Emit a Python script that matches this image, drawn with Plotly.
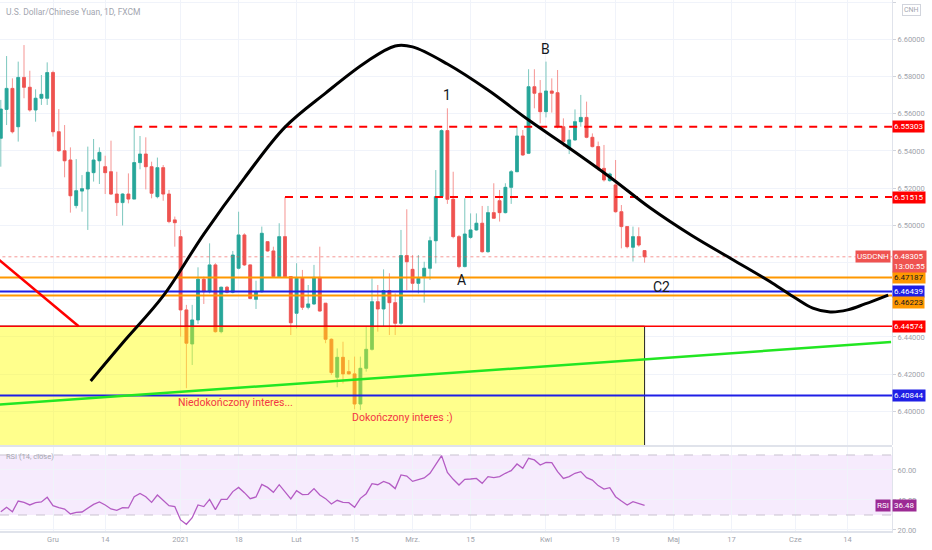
import plotly.graph_objects as go

# USD/CNH daily candles, 18 Nov 2020 - 26 Apr 2021
DATES = """
2020-11-18 2020-11-19 2020-11-20 2020-11-23 2020-11-24 2020-11-25 2020-11-26 2020-11-27 2020-11-30
2020-12-01 2020-12-02 2020-12-03 2020-12-04 2020-12-07 2020-12-08 2020-12-09 2020-12-10 2020-12-11
2020-12-14 2020-12-15 2020-12-16 2020-12-17 2020-12-18 2020-12-21 2020-12-22 2020-12-23 2020-12-24
2020-12-28 2020-12-29 2020-12-30 2020-12-31
2021-01-04 2021-01-05 2021-01-06 2021-01-07 2021-01-08 2021-01-11 2021-01-12 2021-01-13 2021-01-14 2021-01-15
2021-01-18 2021-01-19 2021-01-20 2021-01-21 2021-01-22 2021-01-25 2021-01-26 2021-01-27 2021-01-28 2021-01-29
2021-02-01 2021-02-02 2021-02-03 2021-02-04 2021-02-05 2021-02-08 2021-02-09 2021-02-10 2021-02-11 2021-02-12
2021-02-15 2021-02-16 2021-02-17 2021-02-18 2021-02-19 2021-02-22 2021-02-23 2021-02-24 2021-02-25 2021-02-26
2021-03-01 2021-03-02 2021-03-03 2021-03-04 2021-03-05 2021-03-08 2021-03-09 2021-03-10 2021-03-11 2021-03-12
2021-03-15 2021-03-16 2021-03-17 2021-03-18 2021-03-19 2021-03-22 2021-03-23 2021-03-24 2021-03-25 2021-03-26
2021-03-29 2021-03-30 2021-03-31
2021-04-01 2021-04-02 2021-04-05 2021-04-06 2021-04-07 2021-04-08 2021-04-09
2021-04-12 2021-04-13 2021-04-14 2021-04-15 2021-04-16 2021-04-19 2021-04-20 2021-04-21 2021-04-22 2021-04-23 2021-04-26
""".split()

OPEN = [
    6.5468, 6.5623, 6.5736, 6.5530, 6.5795, 6.5742, 6.5620, 6.5683, 6.5683,
    6.5821, 6.5503, 6.5401, 6.5351, 6.5106, 6.5184, 6.5195, 6.5283, 6.5347,
    6.5315, 6.5288, 6.5168, 6.5122, 6.5168, 6.5141, 6.5337, 6.5383, 6.5315,
    6.5154, 6.5310, 6.5168, 6.5029,
    6.4939, 6.4545, 6.4362, 6.4491, 6.4710, 6.4643, 6.4787, 6.4428, 6.4667, 6.4640,
    6.4769, 6.4948, 6.4787, 6.4602, 6.4643, 6.4912, 6.4862, 6.4724, 6.4939, 6.4724,
    6.4527, 6.4715, 6.4559, 6.4577, 6.4720, 6.4581, 6.4387, 6.4183, 6.4290, 6.4213,
    6.4201, 6.4039, 6.4231, 6.4333, 6.4589, 6.4550, 6.4649, 6.4584, 6.4473, 6.4837,
    6.4763, 6.4688, 6.4724, 6.4769, 6.4917, 6.5154, 6.5509, 6.5140, 6.4939, 6.4778,
    6.4935, 6.4975, 6.5011, 6.4858, 6.5068, 6.5132, 6.5068, 6.5204, 6.5288, 6.5480,
    6.5387, 6.5745, 6.5710,
    6.5611, 6.5722, 6.5713, 6.5530, 6.5414, 6.5459, 6.5557,
    6.5580, 6.5473, 6.5423, 6.5306, 6.5240, 6.5217, 6.5073, 6.4993, 6.4882, 6.4939, 6.4864,
]
HIGH = [
    6.5674, 6.5910, 6.5790, 6.5880, 6.5969, 6.5831, 6.5731, 6.5808, 6.5876,
    6.5831, 6.5625, 6.5539, 6.5419, 6.5356, 6.5270, 6.5423, 6.5464, 6.5419,
    6.5374, 6.5455, 6.5288, 6.5172, 6.5279, 6.5530, 6.5480, 6.5473, 6.5342,
    6.5364, 6.5324, 6.5190, 6.5047,
    6.4975, 6.4572, 6.4572, 6.4774, 6.4724, 6.4903, 6.4796, 6.4670, 6.4674, 6.4862,
    6.5073, 6.4957, 6.4790, 6.4702, 6.4993, 6.4915, 6.4885, 6.5011, 6.5152, 6.4727,
    6.4796, 6.4760, 6.4679, 6.4787, 6.4885, 6.4581, 6.4392, 6.4338, 6.4374, 6.4276,
    6.4294, 6.4294, 6.4455, 6.4715, 6.4679, 6.4763, 6.4742, 6.4634, 6.4975, 6.5086,
    6.4840, 6.4840, 6.4804, 6.4939, 6.5297, 6.5516, 6.5629, 6.5288, 6.4948, 6.5145,
    6.5064, 6.5064, 6.5104, 6.5104, 6.5226, 6.5190, 6.5226, 6.5297, 6.5530, 6.5512,
    6.5839, 6.5839, 6.5781,
    6.5880, 6.5790, 6.5835, 6.5575, 6.5512, 6.5623, 6.5701,
    6.5665, 6.5494, 6.5450, 6.5432, 6.5283, 6.5351, 6.5109, 6.4993, 6.4993, 6.4989, 6.4867,
]
LOW = [
    6.5315, 6.5539, 6.5494, 6.5450, 6.5683, 6.5611, 6.5557, 6.5647, 6.5647,
    6.5477, 6.5396, 6.5258, 6.5068, 6.5091, 6.5073, 6.4975, 6.5235, 6.5222,
    6.5168, 6.5163, 6.5050, 6.4999, 6.5118, 6.5141, 6.5301, 6.5193, 6.5145,
    6.5145, 6.5132, 6.5011, 6.4885,
    6.4401, 6.4124, 6.4249, 6.4469, 6.4577, 6.4634, 6.4423, 6.4419, 6.4634, 6.4634,
    6.4763, 6.4781, 6.4602, 6.4550, 6.4638, 6.4858, 6.4720, 6.4720, 6.4720, 6.4410,
    6.4445, 6.4545, 6.4548, 6.4572, 6.4536, 6.4366, 6.4195, 6.4129, 6.4150, 6.4198,
    6.4011, 6.4007, 6.4213, 6.4326, 6.4428, 6.4455, 6.4410, 6.4410, 6.4464, 6.4652,
    6.4649, 6.4634, 6.4584, 6.4706, 6.4795, 6.5150, 6.5115, 6.4930, 6.4769, 6.4774,
    6.4928, 6.4971, 6.4853, 6.4853, 6.5038, 6.5020, 6.5064, 6.5115, 6.5288, 6.5373,
    6.5383, 6.5629, 6.5548,
    6.5580, 6.5606, 6.5521, 6.5423, 6.5383, 6.5455, 6.5530,
    6.5468, 6.5419, 6.5294, 6.5235, 6.5235, 6.5068, 6.4876, 6.4876, 6.4805, 6.4885, 6.4799,
]
CLOSE = [
    6.5625, 6.5736, 6.5503, 6.5795, 6.5742, 6.5620, 6.5683, 6.5704, 6.5821,
    6.5503, 6.5401, 6.5347, 6.5159, 6.5186, 6.5197, 6.5285, 6.5351, 6.5392,
    6.5283, 6.5168, 6.5122, 6.5168, 6.5141, 6.5337, 6.5383, 6.5315, 6.5172,
    6.5310, 6.5168, 6.5020, 6.5014,
    6.4545, 6.4366, 6.4491, 6.4710, 6.4643, 6.4787, 6.4428, 6.4667, 6.4640, 6.4840,
    6.4948, 6.4787, 6.4607, 6.4643, 6.4957, 6.4862, 6.4724, 6.4939, 6.4724, 6.4476,
    6.4715, 6.4559, 6.4577, 6.4720, 6.4539, 6.4387, 6.4208, 6.4290, 6.4201, 6.4201,
    6.4039, 6.4231, 6.4333, 6.4589, 6.4550, 6.4649, 6.4584, 6.4473, 6.4837, 6.4804,
    6.4688, 6.4715, 6.4769, 6.4917, 6.5154, 6.5509, 6.5140, 6.4939, 6.4778, 6.4953,
    6.4975, 6.5011, 6.4858, 6.5068, 6.5038, 6.5068, 6.5204, 6.5288, 6.5480, 6.5378,
    6.5745, 6.5710, 6.5611,
    6.5722, 6.5710, 6.5530, 6.5450, 6.5459, 6.5557, 6.5580,
    6.5473, 6.5423, 6.5306, 6.5244, 6.5276, 6.5073, 6.4993, 6.4885, 6.4939, 6.4894, 6.48305,
]
RSI = [
    32.2, 35.1, 32.2, 39.3, 38.4, 36.7, 38.2, 38.7, 41.8,
    36.2, 34.9, 34.0, 30.7, 31.8, 32.0, 34.4, 37.1, 38.7,
    36.7, 34.0, 33.1, 34.9, 34.7, 42.2, 44.4, 42.2, 38.4,
    43.3, 39.6, 36.2, 35.6,
    26.7, 23.8, 28.2, 36.7, 35.6, 40.4, 33.6, 40.4, 40.4, 45.6,
    48.4, 44.9, 40.9, 42.0, 50.4, 48.4, 45.1, 50.2, 45.6, 40.7,
    46.2, 43.6, 43.8, 47.6, 43.3, 40.9, 37.3, 39.8, 38.4, 38.2,
    35.1, 41.1, 44.2, 50.9, 50.2, 52.4, 50.9, 47.6, 56.7, 56.0,
    52.4, 53.3, 54.7, 57.8, 63.3, 69.6, 58.4, 53.8, 50.0, 53.8,
    54.0, 54.4, 51.1, 55.6, 54.9, 55.6, 57.8, 59.6, 64.0, 61.1,
    67.8, 66.7, 63.3,
    65.1, 64.9, 58.9, 54.4, 55.6, 57.8, 58.9,
    54.9, 53.3, 49.6, 47.3, 48.2, 42.2, 39.3, 36.7, 38.9, 37.8, 36.48,
]
assert len(DATES) == len(OPEN) == len(HIGH) == len(LOW) == len(CLOSE) == len(RSI)

HOLIDAYS = ["2020-12-25", "2021-01-01"]
TICK_DATES = ["2020-12-01", "2020-12-14", "2021-01-04", "2021-01-18", "2021-02-01",
              "2021-02-15", "2021-03-01", "2021-03-15", "2021-04-01", "2021-04-19",
              "2021-05-03", "2021-05-17", "2021-06-01", "2021-06-14"]
TICK_TEXT = ["Gru", "14", "2021", "18", "Lut", "15", "Mrz.", "15", "Kwi", "19",
             "Maj", "17", "Cze", "14"]

# price scale: 6.48 and 6.46 sit behind the coloured labels, so no text there
PRICE_TICKS = [6.38, 6.40, 6.42, 6.44, 6.46, 6.48, 6.50, 6.52, 6.54, 6.56, 6.58, 6.60, 6.62]
PRICE_TEXT = ["6.38000", "6.40000", "6.42000", "6.44000", "", "", "6.50000", "6.52000",
              "6.54000", "6.56000", "6.58000", "6.60000", "6.62000"]

# drawn levels
DASH_LEVELS = [6.55303, 6.51515]
DASH_FROM = ["2020-12-21", "2021-01-28"]
ORANGE_LEVELS = [6.47187, 6.46223]
BLUE_LEVELS = [6.46439, 6.40844]
RED_LEVEL = 6.44574
LAST_PRICE = 6.48305
RSI_LAST = 36.48

# black arc drawn by hand on the chart
ARC_DATES = ["2020-12-09 12:00", "2020-12-17", "2020-12-29", "2021-01-08", "2021-01-19",
             "2021-01-28", "2021-02-08", "2021-02-17", "2021-02-24", "2021-03-01",
             "2021-03-09", "2021-03-18", "2021-03-29", "2021-04-07", "2021-04-16",
             "2021-04-27", "2021-05-06", "2021-05-17", "2021-05-26", "2021-06-01",
             "2021-06-04", "2021-06-09", "2021-06-14", "2021-06-17", "2021-06-23"]
ARC_PRICES = [6.4163, 6.4367, 6.4620, 6.4953, 6.5254, 6.5528, 6.5711, 6.5878, 6.5964,
              6.5959, 6.5867, 6.5727, 6.5566, 6.5416, 6.5260, 6.5093, 6.4948, 6.4819,
              6.4690, 6.4609, 6.4555, 6.4534, 6.4545, 6.4577, 6.4625]

GREEN_DATES = ["2020-11-17 12:00", "2021-06-23 12:00"]
GREEN_PRICES = [6.4036, 6.4372]
RED_DIAG_DATES = ["2020-11-17 12:00", "2020-12-07 10:00"]
RED_DIAG_PRICES = [6.4820, 6.4457]

BOX_DATES = ["2020-11-10", "2021-04-26"]
BOX_PRICES = [6.37, RED_LEVEL]

X_RANGE = ["2020-11-17 20:40", "2021-06-23 15:50"]
X_FAR = ["2020-11-10", "2021-07-05"]
Y_RANGE = [6.38188, 6.62113]
RSI_RANGE = [19.33, 75.33]

FONT = "Roboto"
AXIS_TXT = "#a0a3ab"
GRID = "#f0f3fa"
RED = "#ff0000"
ORANGE = "#ff9800"
BLUE = "#1f1fe6"
LABEL_SIZE = 8

fig = go.Figure()

# wicks (lighter), then solid bodies on top
fig.add_trace(go.Candlestick(
    x=DATES, open=OPEN, high=HIGH, low=LOW, close=CLOSE,
    increasing=dict(line=dict(color="#7cc7be", width=1), fillcolor="#7cc7be"),
    decreasing=dict(line=dict(color="#f59593", width=1), fillcolor="#f59593"),
    whiskerwidth=0, showlegend=False, hoverinfo="skip"))
fig.add_trace(go.Candlestick(
    x=DATES, open=OPEN, close=CLOSE,
    high=[max(o, c) for o, c in zip(OPEN, CLOSE)],
    low=[min(o, c) for o, c in zip(OPEN, CLOSE)],
    increasing=dict(line=dict(color="#26a69a", width=0.6), fillcolor="#26a69a"),
    decreasing=dict(line=dict(color="#ef5350", width=0.6), fillcolor="#ef5350"),
    whiskerwidth=0, showlegend=False, hoverinfo="skip"))

# yellow zone, drawn over the candles
fig.add_trace(go.Scatter(
    x=[BOX_DATES[0], BOX_DATES[1], BOX_DATES[1], BOX_DATES[0], BOX_DATES[0]],
    y=[BOX_PRICES[0], BOX_PRICES[0], BOX_PRICES[1], BOX_PRICES[1], BOX_PRICES[0]],
    mode="lines", fill="toself", fillcolor="rgba(255,255,0,0.45)",
    line=dict(color="#222222", width=1), showlegend=False, hoverinfo="skip"))


def hline(price, color, width, dash="solid", start=None):
    fig.add_trace(go.Scatter(
        x=[start or X_FAR[0], X_FAR[1]], y=[price, price], mode="lines",
        line=dict(color=color, width=width, dash=dash),
        showlegend=False, hoverinfo="skip"))


hline(LAST_PRICE, "rgba(239,83,80,0.6)", 1, "dot")
for lvl in ORANGE_LEVELS:
    hline(lvl, ORANGE, 2)
for lvl in BLUE_LEVELS:
    hline(lvl, BLUE, 2)
hline(RED_LEVEL, RED, 1.5)
for lvl, d in zip(DASH_LEVELS, DASH_FROM):
    hline(lvl, RED, 2, "8px,7px", start=d)

fig.add_trace(go.Scatter(x=GREEN_DATES, y=GREEN_PRICES, mode="lines",
                         line=dict(color="#22e622", width=2.5),
                         showlegend=False, hoverinfo="skip"))
fig.add_trace(go.Scatter(x=RED_DIAG_DATES, y=RED_DIAG_PRICES, mode="lines",
                         line=dict(color=RED, width=2.5),
                         showlegend=False, hoverinfo="skip"))
fig.add_trace(go.Scatter(x=ARC_DATES, y=ARC_PRICES, mode="lines",
                         line=dict(color="#000000", width=3, shape="spline"),
                         showlegend=False, hoverinfo="skip"))

# RSI pane
fig.add_trace(go.Scatter(x=DATES, y=RSI, yaxis="y2", mode="lines",
                         line=dict(color="#b45cc4", width=1.3),
                         showlegend=False, hoverinfo="skip"))

shapes = [
    dict(type="rect", xref="paper", x0=0, x1=1, yref="y2", y0=30, y1=70,
         fillcolor="rgba(170,60,240,0.10)", line_width=0, layer="below"),
    dict(type="line", xref="paper", x0=0, x1=1, yref="y2", y0=70, y1=70,
         line=dict(color="#c9c2d0", width=1, dash="dash")),
    dict(type="line", xref="paper", x0=0, x1=1, yref="y2", y0=30, y1=30,
         line=dict(color="#c9c2d0", width=1, dash="dash")),
    dict(type="line", xref="paper", x0=0, x1=1, yref="paper", y0=0.1601, y1=0.1601,
         line=dict(color="#e0e3eb", width=2)),
]

annotations = []


def price_label(price, text, bg, fg="#ffffff", yshift=0, yref="y"):
    annotations.append(dict(
        xref="paper", x=1, xanchor="left", yref=yref, y=price, yanchor="middle",
        text=text, showarrow=False, bgcolor=bg, borderpad=1, yshift=yshift,
        font=dict(family=FONT, size=LABEL_SIZE, color=fg)))


for lvl in DASH_LEVELS:
    price_label(lvl, f"{lvl:.5f}", RED)
price_label(ORANGE_LEVELS[0], f"{ORANGE_LEVELS[0]:.5f}", ORANGE, "#131722")
price_label(BLUE_LEVELS[0], f"{BLUE_LEVELS[0]:.5f}", BLUE)
price_label(ORANGE_LEVELS[1], f"{ORANGE_LEVELS[1]:.5f}", ORANGE, "#131722", yshift=-7)
price_label(RED_LEVEL, f"{RED_LEVEL:.5f}", RED)
price_label(BLUE_LEVELS[1], f"{BLUE_LEVELS[1]:.5f}", BLUE)

# last price box
annotations.append(dict(
    xref="paper", x=1, xanchor="left", yref="y", y=LAST_PRICE, yanchor="top", yshift=7,
    text=f"{LAST_PRICE:.5f}<br>13:00:55", showarrow=False, bgcolor="#ef5350",
    borderpad=1, align="left", font=dict(family=FONT, size=LABEL_SIZE, color="#ffffff")))
annotations.append(dict(
    xref="paper", x=1, xanchor="right", xshift=-1, yref="y", y=LAST_PRICE,
    yanchor="middle", text="USDCNH", showarrow=False, bgcolor="#ef5350",
    borderpad=1, font=dict(family=FONT, size=LABEL_SIZE, color="#ffffff")))

# RSI value box
price_label(RSI_LAST, f"{RSI_LAST:.2f}", "#9c2a94", yref="y2")
annotations.append(dict(
    xref="paper", x=1, xanchor="right", xshift=-1, yref="y2", y=RSI_LAST,
    yanchor="middle", text="RSI", showarrow=False, bgcolor="#9c2a94",
    borderpad=1, font=dict(family=FONT, size=LABEL_SIZE, color="#ffffff")))

# texts on the chart
notes = [
    ("2021-03-09", 6.5700, "1", 14, "#131722"),
    ("2021-04-01", 6.5948, "B", 14, "#131722"),
    ("2021-03-11 12:00", 6.4706, "A", 14, "#131722"),
    ("2021-04-29", 6.4668, "C2", 14, "#131722"),
    ("2021-01-15 10:00", 6.4046, "Niedokończony interes...", 10.5, "#f23645"),
    ("2021-02-25 05:00", 6.3969, "Dokończony interes :)", 10.5, "#f23645"),
]
for x, y, t, s, c in notes:
    annotations.append(dict(x=x, y=y, xref="x", yref="y", text=t, showarrow=False,
                            font=dict(family=FONT, size=s, color=c)))

annotations.append(dict(
    xref="paper", x=0, xanchor="left", xshift=4, yref="paper", y=1, yanchor="top",
    yshift=-5, text="U.S. Dollar/Chinese Yuan, 1D, FXCM", showarrow=False,
    font=dict(family=FONT, size=8.5, color="#a3a6af")))
annotations.append(dict(
    xref="paper", x=0, xanchor="left", xshift=4, yref="y2 domain", y=1, yanchor="top",
    yshift=-3, text="RSI (14, close)", showarrow=False,
    font=dict(family=FONT, size=7.5, color="#a3a6af")))
annotations.append(dict(
    xref="paper", x=1, xanchor="left", xshift=10, yref="paper", y=1, yanchor="top",
    yshift=-4, text="CNH", showarrow=False, bordercolor="#d1d4dc", borderwidth=1,
    borderpad=1, font=dict(family=FONT, size=7, color="#a3a6af")))

fig.update_layout(
    width=932, height=550,
    margin=dict(l=0, r=40, t=0, b=19),
    paper_bgcolor="#ffffff", plot_bgcolor="#ffffff",
    font=dict(family=FONT, size=7.5, color=AXIS_TXT),
    showlegend=False,
    shapes=shapes, annotations=annotations,
    xaxis=dict(
        type="date", range=X_RANGE, anchor="y2",
        rangebreaks=[dict(bounds=["sat", "mon"]), dict(values=HOLIDAYS)],
        rangeslider=dict(visible=False),
        tickvals=TICK_DATES, ticktext=TICK_TEXT,
        tickfont=dict(size=7.5, color=AXIS_TXT),
        showgrid=True, gridcolor=GRID, showline=True, linecolor="#e0e3eb", linewidth=2,
        zeroline=False, ticks="",
    ),
    yaxis=dict(
        domain=[0.1620, 1], range=Y_RANGE, side="right", anchor="x",
        tickvals=PRICE_TICKS, ticktext=PRICE_TEXT,
        tickfont=dict(size=7.5, color=AXIS_TXT),
        showgrid=True, gridcolor=GRID, zeroline=False,
        showline=True, linecolor="#e0e3eb", ticks="outside", ticklen=3,
        tickcolor="#d1d4dc",
    ),
    yaxis2=dict(
        domain=[0, 0.1582], range=RSI_RANGE, side="right", anchor="x",
        tickvals=[20, 40, 60], ticktext=["20.00", "40.00", "60.00"],
        tickfont=dict(size=7.5, color=AXIS_TXT),
        showgrid=True, gridcolor=GRID, zeroline=False,
        showline=True, linecolor="#e0e3eb", ticks="outside", ticklen=3,
        tickcolor="#d1d4dc",
    ),
)

# the page body has a default 8px margin; drop it so the chart sits at 0,0
fig.write_html("out.html", config={"displayModeBar": False},
               post_script="document.body.style.margin='0';")
